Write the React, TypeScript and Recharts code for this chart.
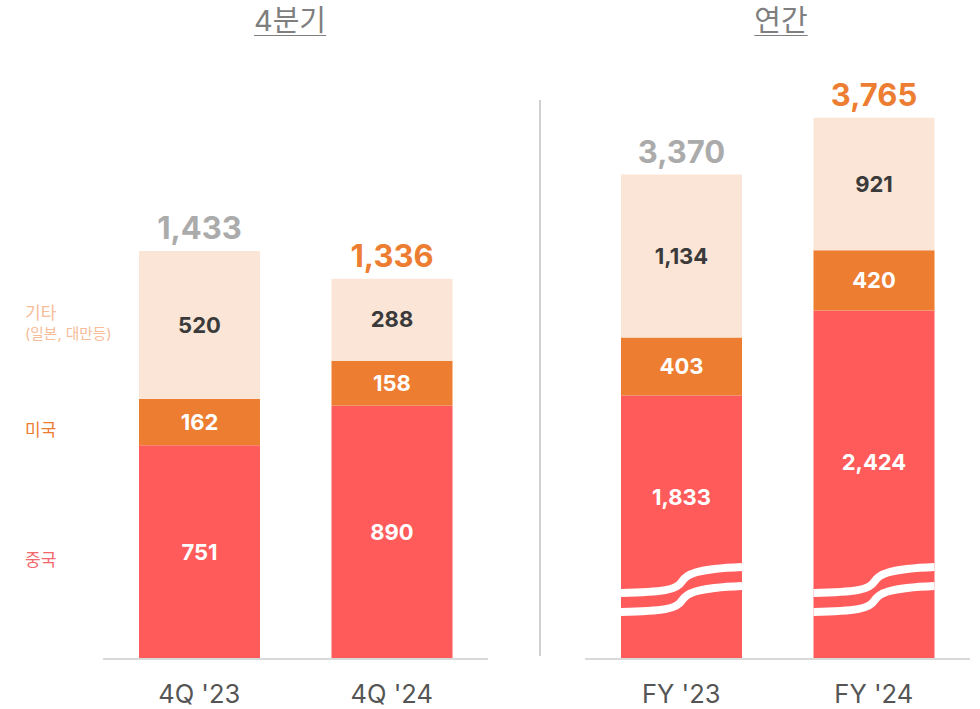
import React from "react";
import { BarChart, Bar, XAxis, YAxis, LabelList } from "recharts";

// values
const quarterCats = ["4Q '23", "4Q '24"];
const quarterChina = [751, 890];
const quarterUS = [162, 158];
const quarterOther = [520, 288];

const annualCats = ["FY '23", "FY '24"];
const annualChina = [1833, 2424];
const annualUS = [403, 420];
const annualOther = [1134, 921];

const RED = "#FF5B5B";
const ORANGE = "#ED7D31";
const PEACH = "#FBE5D6";
const FONT = "Inter, 'Noto Sans CJK KR', sans-serif";

const totalColors = ["#ABABAB", ORANGE];
// china labels sit higher on the broken FY bars
const brokenLabelShift = [-30, -23];

function buildRows(cats: string[], china: number[], us: number[], other: number[]) {
  return cats.map((c, i) => ({
    name: c,
    china: china[i],
    us: us[i],
    other: other[i],
    total: china[i] + us[i] + other[i],
  }));
}

const quarterRows = buildRows(quarterCats, quarterChina, quarterUS, quarterOther);
const annualRows = buildRows(annualCats, annualChina, annualUS, annualOther);

const fmt = (v: any) => Number(v).toLocaleString("en-US");

const AxisTick = (props: any) => {
  const { x, y, payload } = props;
  return (
    <text x={x} y={y + 42} textAnchor="middle" fill="#555" fontSize={25.5} fontFamily={FONT}>
      {payload.value}
    </text>
  );
};

const TotalLabel = (props: any) => {
  const { x, y, width, value, index } = props;
  return (
    <text
      x={x + width / 2}
      y={y - 12}
      textAnchor="middle"
      fill={totalColors[index]}
      fontSize={31}
      fontWeight={700}
      fontFamily={FONT}
    >
      {fmt(value)}
    </text>
  );
};

const BrokenChinaLabel = (props: any) => {
  const { x, y, width, height, value, index } = props;
  return (
    <text
      x={x + width / 2}
      y={y + height / 2 + brokenLabelShift[index]}
      textAnchor="middle"
      dominantBaseline="central"
      fill="#fff"
      fontSize={22}
      fontWeight={700}
      fontFamily={FONT}
    >
      {fmt(value)}
    </text>
  );
};

// china bar with the white "axis break" squiggles near the bottom
const BrokenBar = (props: any) => {
  const { x, y, width, height, fill } = props;
  const b = y + height;
  const w = width;
  const wave = (off: number) =>
    `M${x},${b - 66 + off} C${x + 0.35 * w},${b - 67 + off} ${x + 0.46 * w},${b - 69 + off} ${x + 0.5 * w},${b - 77 + off} S${x + 0.62 * w},${b - 90 + off} ${x + w},${b - 92 + off}`;
  return (
    <g>
      <rect x={x} y={y} width={width} height={height} fill={fill} />
      <path d={wave(0)} stroke="#fff" strokeWidth={8} fill="none" />
      <path d={wave(19)} stroke="#fff" strokeWidth={8} fill="none" />
    </g>
  );
};

function Panel({ rows, max, top, broken }: { rows: any[]; max: number; top: number; broken?: boolean }) {
  return (
    <BarChart width={385} height={709} data={rows} margin={{ top, right: 0, bottom: 0, left: 0 }} barSize={121}>
      <XAxis
        dataKey="name"
        height={709 - 659}
        axisLine={{ stroke: "#d9d9d9", strokeWidth: 2 }}
        tickLine={false}
        tickSize={0}
        tick={<AxisTick />}
        interval={0}
      />
      <YAxis hide domain={[0, max]} />
      <Bar dataKey="china" stackId="a" fill={RED} isAnimationActive={false} shape={broken ? <BrokenBar /> : undefined}>
        {broken ? (
          <LabelList dataKey="china" content={<BrokenChinaLabel />} />
        ) : (
          <LabelList dataKey="china" position="center" formatter={fmt} fill="#fff" fontSize={22} fontWeight={700} fontFamily={FONT} />
        )}
      </Bar>
      <Bar dataKey="us" stackId="a" fill={ORANGE} isAnimationActive={false}>
        <LabelList dataKey="us" position="center" formatter={fmt} fill="#fff" fontSize={22} fontWeight={700} fontFamily={FONT} />
      </Bar>
      <Bar dataKey="other" stackId="a" fill={PEACH} isAnimationActive={false}>
        <LabelList dataKey="other" position="center" formatter={fmt} fill="#3a3a3a" fontSize={22} fontWeight={700} fontFamily={FONT} />
        <LabelList dataKey="total" content={<TotalLabel />} />
      </Bar>
    </BarChart>
  );
}

export default function App() {
  const title: React.CSSProperties = {
    position: "absolute",
    top: 1,
    fontSize: 29,
    lineHeight: "40px",
    color: "#7f7f7f",
    textDecoration: "underline",
    textUnderlineOffset: 4,
    textDecorationThickness: 1,
    transform: "translateX(-50%)",
    fontFamily: FONT,
    whiteSpace: "nowrap",
  };
  return (
    <div style={{ position: "absolute", left: 0, top: 0, width: 980, height: 709, background: "#fff", fontFamily: FONT }}>
      <div style={{ ...title, left: 290 }}>4분기</div>
      <div style={{ ...title, left: 781 }}>연간</div>

      <div style={{ position: "absolute", left: 25, top: 303, color: "#F7BC98", fontSize: 17, lineHeight: "20px" }}>기타</div>
      <div style={{ position: "absolute", left: 25, top: 325, color: "#F7BC98", fontSize: 14.7, lineHeight: "18px", whiteSpace: "nowrap" }}>(일본, 대만등)</div>
      <div style={{ position: "absolute", left: 25, top: 420, color: ORANGE, fontSize: 17, lineHeight: "20px" }}>미국</div>
      <div style={{ position: "absolute", left: 25, top: 550, color: "#F4676B", fontSize: 17, lineHeight: "20px" }}>중국</div>

      <div style={{ position: "absolute", left: 539, top: 100, width: 2, height: 556, background: "#d0d0d0" }} />

      <div style={{ position: "absolute", left: 103, top: 0 }}>
        <Panel rows={quarterRows} max={1600} top={659 - 1600 * 0.2847} />
      </div>
      <div style={{ position: "absolute", left: 585, top: 0 }}>
        <Panel rows={annualRows} max={4000} top={658 - 4000 * 0.1435} broken />
      </div>
    </div>
  );
}
